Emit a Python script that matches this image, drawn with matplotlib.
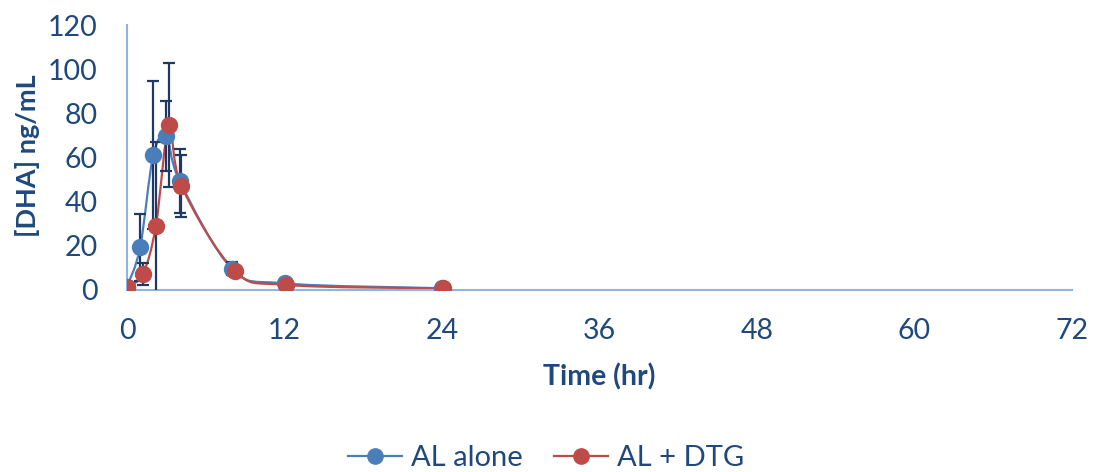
import numpy as np
import matplotlib
matplotlib.use("Agg")
from matplotlib import pyplot as plt
from matplotlib.path import Path
from matplotlib.patches import PathPatch
from matplotlib.lines import Line2D

# data
timeAlone = [0, 1, 2, 3, 4, 8, 12, 24]
dhaAlone = [1.5, 19.3, 61, 69.7, 49.5, 9.6, 3.0, 0.8]
errAlone = [0, 15, 33.5, 16, 14.5, 3, 1, 0.3]

timeDtg = [0, 1.2, 2.2, 3.2, 4.15, 8.2, 12.1, 24.1]
dhaDtg = [1.5, 7.1, 29, 74.7, 47.1, 8.8, 2.3, 0.7]
errDtg = [0, 5, 38, 28, 14, 2, 1, 0.3]

xTicks = [0, 12, 24, 36, 48, 60, 72]
yTicks = [0, 20, 40, 60, 80, 100, 120]

blue = "#4A7EBB"
red = "#BE4B48"
navy = "#1F3864"
textColor = "#1F497D"
spineColor = "#8EB4E3"
fontName = "Lato"


# smooth curve through the points (Excel style bezier)
def smoothPath(xs, ys):
    pts = np.column_stack([xs, ys]).astype(float)
    verts = [pts[0]]
    codes = [Path.MOVETO]
    n = len(pts)
    for i in range(n - 1):
        p0 = pts[i - 1] if i > 0 else pts[i]
        p1 = pts[i]
        p2 = pts[i + 1]
        p3 = pts[i + 2] if i + 2 < n else pts[i + 1]
        c1 = p1 + (p2 - p0) / 6.0
        c2 = p2 - (p3 - p1) / 6.0
        verts += [c1, c2, p2]
        codes += [Path.CURVE4] * 3
    return Path(verts, codes)


fig = plt.figure(figsize=(11.02, 4.72), dpi=100)
ax = fig.add_axes([127 / 1102, 1 - 290 / 472, (1072 - 127) / 1102, (290 - 25) / 472])

for xs, ys, errs, col in [(timeAlone, dhaAlone, errAlone, blue), (timeDtg, dhaDtg, errDtg, red)]:
    ax.add_patch(PathPatch(smoothPath(xs, ys), fill=False, edgecolor=col, lw=1.6, zorder=2))
    ax.errorbar(xs, ys, yerr=errs, fmt="none", ecolor=navy, elinewidth=1.6,
                capsize=4.5, capthick=1.6, zorder=3)
    ax.plot(xs, ys, "o", color=col, markersize=11.5, markeredgecolor=col, zorder=4)

ax.set_xlim(0, 72)
ax.set_ylim(0, 120)
ax.set_xticks(xTicks)
ax.set_yticks(yTicks)
ax.tick_params(length=0, labelsize=20.5, labelcolor=textColor)
ax.tick_params(axis="x", pad=20)
ax.tick_params(axis="y", pad=21)
for lab in ax.get_xticklabels() + ax.get_yticklabels():
    lab.set_fontname(fontName)

for side in ["top", "right"]:
    ax.spines[side].set_visible(False)
for side in ["left", "bottom"]:
    ax.spines[side].set_color(spineColor)
    ax.spines[side].set_linewidth(1.5)

ax.set_xlabel("Time (hr)", fontsize=20.5, fontweight="bold", color=textColor,
              fontname=fontName, labelpad=14)
ax.set_ylabel("[DHA] ng/mL", fontsize=19.5, fontweight="bold", color=textColor,
              fontname=fontName)
ax.yaxis.set_label_coords(-0.092, 0.505)

handles = [Line2D([], [], color=blue, lw=1.6, marker="o", markersize=11),
           Line2D([], [], color=red, lw=1.6, marker="o", markersize=11)]
leg = fig.legend(handles, ["AL alone", "AL + DTG"], loc="center", bbox_to_anchor=(546 / 1102, 1 - 458 / 472),
                 ncol=2, frameon=False, handlelength=1.85, columnspacing=1.1, handletextpad=0.3,
                 prop={"family": fontName, "size": 21})
for t in leg.get_texts():
    t.set_color(textColor)

plt.savefig("out.png", dpi=100)
